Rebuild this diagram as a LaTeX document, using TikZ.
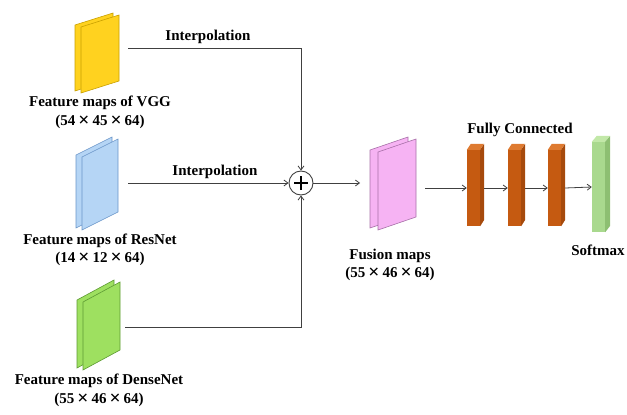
\documentclass[tikz,border=0pt]{standalone}
\usepackage{fontspec}
\setmainfont{Liberation Serif}
\usetikzlibrary{arrows.meta}
\definecolor{linegray}{HTML}{404040}
\definecolor{vggfill}{HTML}{FFD21F}
\definecolor{vggedge}{HTML}{C9A000}
\definecolor{resfill}{HTML}{B5D5F5}
\definecolor{resedge}{HTML}{6A95C8}
\definecolor{denfill}{HTML}{9EE060}
\definecolor{denedge}{HTML}{5D9A33}
\definecolor{fusfill}{HTML}{F6B3F3}
\definecolor{fusedge}{HTML}{A870A8}
\definecolor{fcfront}{HTML}{C55A11}
\definecolor{fctop}{HTML}{DE7A30}
\definecolor{fcside}{HTML}{A64A0C}
\definecolor{smfront}{HTML}{A9D98E}
\definecolor{smtop}{HTML}{C2E8A8}
\definecolor{smside}{HTML}{8DBF72}
\newcommand{\featmap}[7]{%
  \filldraw[#6] ({#1-#7},{#2-2}) -- ++(#3,-#5) -- ++(0,#4) -- ++(-#3,#5) -- cycle;
  \filldraw[#6] (#1,#2) -- ++(#3,-#5) -- ++(0,#4) -- ++(-#3,#5) -- cycle;}
\newcommand{\tms}{\kern0.2em\raisebox{-0.08em}{\scalebox{1.3}{×}}\kern0.2em}
\begin{document}
\begin{tikzpicture}[x=1pt,y=-1pt,
  lbl/.style={font=\fontsize{15}{17}\selectfont\bfseries, inner sep=0pt},
  arr/.style={draw=linegray, line width=0.8pt, -{Straight Barb[length=4pt,width=6pt]}},
  barfront/.style={fill=#1, draw=none, minimum width=13pt, inner sep=0pt},
]
\useasboundingbox (0,0) rectangle (627,415);

% feature maps
\featmap{81}{27}{38}{66}{12}{fill=vggfill, draw=vggedge, line width=0.6pt}{6}
\featmap{82}{157}{36}{73}{18}{fill=resfill, draw=resedge, line width=0.6pt}{6}
\featmap{83}{302}{37}{68}{20}{fill=denfill, draw=denedge, line width=0.6pt}{6}
\featmap{378}{152}{38}{78}{13}{fill=fusfill, draw=fusedge, line width=0.6pt}{8}

% labels
\node[lbl] (interp1) at (208,37) {Interpolation};
\node[lbl] (interp2) at (215,172) {Interpolation};
\node[lbl] (vgg1) at (100,103) {Feature maps of VGG};
\node[lbl] (vgg2) at (100,122) {(54\tms45\tms64)};
\node[lbl] (res1) at (100,241) {Feature maps of ResNet};
\node[lbl] (res2) at (100,259) {(14\tms12\tms64)};
\node[lbl] (den1) at (99,381) {Feature maps of DenseNet};
\node[lbl] (den2) at (99,400) {(55\tms46\tms64)};
\node[lbl] (fus1) at (390,256) {Fusion maps};
\node[lbl] (fus2) at (390,274) {(55\tms46\tms64)};
\node[lbl] (fc) at (520,130) {Fully Connected};
\node[lbl] (smlbl) at (598,250) {Softmax};

% sum node
\node[circle, draw=linegray, line width=0.9pt, minimum size=24pt, inner sep=0pt] (plus) at (301,183) {};
\draw[line width=1.4pt] ([xshift=-7pt]plus.center) -- ([xshift=7pt]plus.center);
\draw[line width=1.4pt] ([yshift=-7pt]plus.center) -- ([yshift=7pt]plus.center);

% connectors into sum
\coordinate (vggout) at (128,48);
\coordinate (resout) at (128,183);
\coordinate (denout) at (125,327);
\coordinate (fusin) at (360,183);
\draw[arr] (vggout) -| (plus);
\draw[arr] (resout) -- (plus);
\draw[arr] (denout) -| (plus);
\draw[arr] (plus) -- (fusin);

% fully connected bars
\foreach \n/\x in {fc1/473.5, fc2/514.5, fc3/554.5} {
  \node[barfront=fcfront, minimum height=76pt] (\n) at (\x,188) {};
  \fill[fctop] (\n.north west) -- ++(4,-6) -- ++(13,0) -- (\n.north east) -- cycle;
  \fill[fcside] (\n.north east) -- ++(4,-6) -- ++(0,76) -- (\n.south east) -- cycle;
}
\node[barfront=smfront, minimum height=90pt] (sm) at (598.5,187) {};
\fill[smtop] (sm.north west) -- ++(5,-6) -- ++(13,0) -- (sm.north east) -- cycle;
\fill[smside] (sm.north east) -- ++(5,-6) -- ++(0,90) -- (sm.south east) -- cycle;

\coordinate (fusout) at (425,188);
\draw[arr] (fusout) -- (fc1.west);
\draw[arr] ([xshift=4pt]fc1.east) -- (fc2.west);
\draw[arr] ([xshift=4pt]fc2.east) -- (fc3.west);
\draw[arr] ([xshift=4pt]fc3.east) -- (sm.west);
\end{tikzpicture}
\end{document}
